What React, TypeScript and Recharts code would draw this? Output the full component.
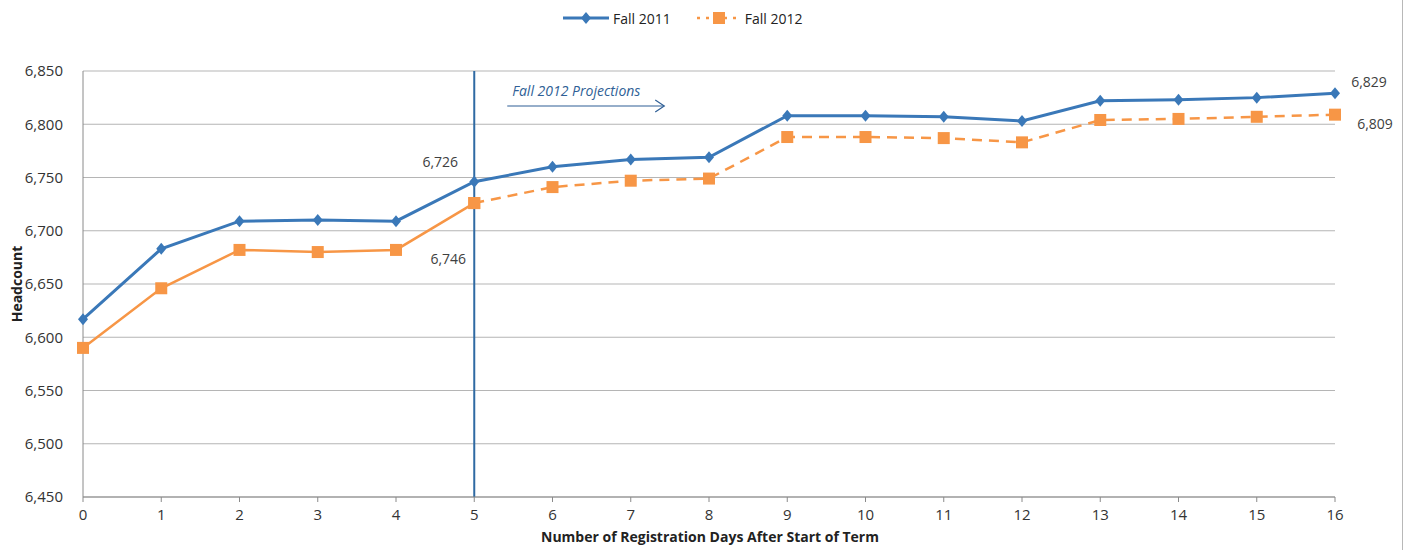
import * as React from 'react';
import {CartesianGrid, Label, LabelList, Line, LineChart, ReferenceLine, XAxis, YAxis} from 'recharts';

const days = [0, 1, 2, 3, 4, 5, 6, 7, 8, 9, 10, 11, 12, 13, 14, 15, 16];
const fall2011 = [6617, 6683, 6709, 6710, 6709, 6746, 6760, 6767, 6769, 6808, 6808, 6807, 6803, 6822, 6823, 6825, 6829];
const fall2012 = [6590, 6646, 6682, 6680, 6682, 6726, 6741, 6747, 6749, 6788, 6788, 6787, 6783, 6804, 6805, 6807, 6809];
const projectionStartDay = 5;
const yTicks = [6450, 6500, 6550, 6600, 6650, 6700, 6750, 6800, 6850];

const BLUE = '#3a78b8';
const ORANGE = '#f79646';
const FONT = '"Open Sans", "Noto Sans", sans-serif';

type Row = {day: number; fall2011: number; actual2012: number | null; projected2012: number | null};

const rows: Row[] = days.map((day, i) => ({
    day,
    fall2011: fall2011[i],
    actual2012: day <= projectionStartDay ? fall2012[i] : null,
    projected2012: day >= projectionStartDay ? fall2012[i] : null,
}));

const fmt = (v: number) => v.toLocaleString('en-US');

const Diamond = (props: any) => {
    const {cx, cy} = props;
    if (cx == null || cy == null) return null;
    return <path d={`M${cx},${cy - 6}L${cx + 5},${cy}L${cx},${cy + 6}L${cx - 5},${cy}Z`} fill={BLUE} />;
};

const Square = (props: any) => {
    const {cx, cy} = props;
    if (cx == null || cy == null) return null;
    return <rect x={cx - 6} y={cy - 6} width={12} height={12} fill={ORANGE} />;
};

// Excel-style data labels that were dragged away from their points
const makeLabel = (offsets: Record<number, [number, number]>) => (props: any) => {
    const {x, y, value, index} = props;
    const off = offsets[index];
    if (!off || value == null) return null;
    return (
        <text x={x + off[0]} y={y + off[1]} textAnchor="middle" dominantBaseline="central"
            fontSize={14} fontFamily={FONT} fill="#404040">
            {fmt(value)}
        </text>
    );
};

const blueLabel = makeLabel({5: [-26, 77], 16: [34, -12]});
const actualLabel = makeLabel({5: [-34, -42]});
const projectedLabel = makeLabel({16: [40, 9]});

const ProjectionArrow = (props: any) => {
    const vb = props.viewBox || {};
    const x = vb.x;
    const y = vb.y;
    if (x == null || y == null) return null;
    return (
        <g>
            <text x={x + 38} y={y + 25} fontSize={14} fontStyle="italic" fontFamily={FONT} fill="#2f5f96">
                Fall 2012 Projections
            </text>
            <line x1={x + 33} y1={y + 35} x2={x + 190} y2={y + 35} stroke="#2f5f96" strokeWidth={1.2} />
            <polyline points={`${x + 181},${y + 29} ${x + 190},${y + 35} ${x + 181},${y + 41}`}
                fill="none" stroke="#2f5f96" strokeWidth={1.2} />
        </g>
    );
};

export default function App() {
    return (
        <div style={{position: 'absolute', left: 0, top: 0, width: 1408, height: 550, background: '#fff'}}>
            <div style={{position: 'absolute', left: 1402, top: 0, width: 1, height: 550, background: '#b8b8b8'}} />
            <div style={{position: 'absolute', left: 561, top: 8, display: 'flex', alignItems: 'center',
                fontFamily: FONT, fontSize: 14, color: '#222'}}>
                <svg width={50} height={20}>
                    <line x1={2} y1={10} x2={48} y2={10} stroke={BLUE} strokeWidth={3} />
                    <path d="M25,4L30,10L25,16L20,10Z" fill={BLUE} />
                </svg>
                <span style={{marginLeft: 2}}>Fall 2011</span>
                <svg width={50} height={20} style={{marginLeft: 22}}>
                    <line x1={4} y1={10} x2={46} y2={10} stroke={ORANGE} strokeWidth={2.5} strokeDasharray="3 6" />
                    <rect x={20} y={4} width={12} height={12} fill={ORANGE} />
                </svg>
                <span style={{marginLeft: 2}}>Fall 2012</span>
            </div>
            <LineChart width={1408} height={550} data={rows}
                margin={{top: 71, right: 73, bottom: 23, left: 0}}>
                <CartesianGrid vertical={false} stroke="#b5b5b5" strokeWidth={1.2} />
                <XAxis dataKey="day" type="number" domain={[0, 16]} ticks={days} interval={0}
                    height={30} stroke="#8a8a8a" tickSize={5}
                    tick={{fontSize: 15, fontFamily: FONT, fill: '#333'}} tickMargin={7}>
                    <Label content={() => (
                        <text x={710} y={542} textAnchor="middle" fontSize={14} fontWeight="bold"
                            fontFamily={FONT} fill="#222">
                            Number of Registration Days After Start of Term
                        </text>
                    )} />
                </XAxis>
                <YAxis width={83} domain={[6450, 6850]} ticks={yTicks} tickFormatter={fmt}
                    stroke="#8a8a8a" tickLine={false} allowDataOverflow
                    tick={{fontSize: 15, fontFamily: FONT, fill: '#333'}} tickMargin={14}>
                    <Label content={() => (
                        <text x={22} y={284} transform="rotate(-90 22 284)" textAnchor="middle"
                            fontSize={14} fontWeight="bold" fontFamily={FONT} fill="#222">
                            Headcount
                        </text>
                    )} />
                </YAxis>
                <ReferenceLine x={projectionStartDay} stroke="#2f6aa3" strokeWidth={2} label={<ProjectionArrow />} />
                <Line dataKey="fall2011" stroke={BLUE} strokeWidth={3} dot={<Diamond />}
                    isAnimationActive={false}>
                    <LabelList dataKey="fall2011" content={blueLabel} />
                </Line>
                <Line dataKey="actual2012" stroke={ORANGE} strokeWidth={2.5} dot={<Square />}
                    isAnimationActive={false}>
                    <LabelList dataKey="actual2012" content={actualLabel} />
                </Line>
                <Line dataKey="projected2012" stroke={ORANGE} strokeWidth={2.5} strokeDasharray="10 7"
                    dot={<Square />} isAnimationActive={false}>
                    <LabelList dataKey="projected2012" content={projectedLabel} />
                </Line>
            </LineChart>
        </div>
    );
}
